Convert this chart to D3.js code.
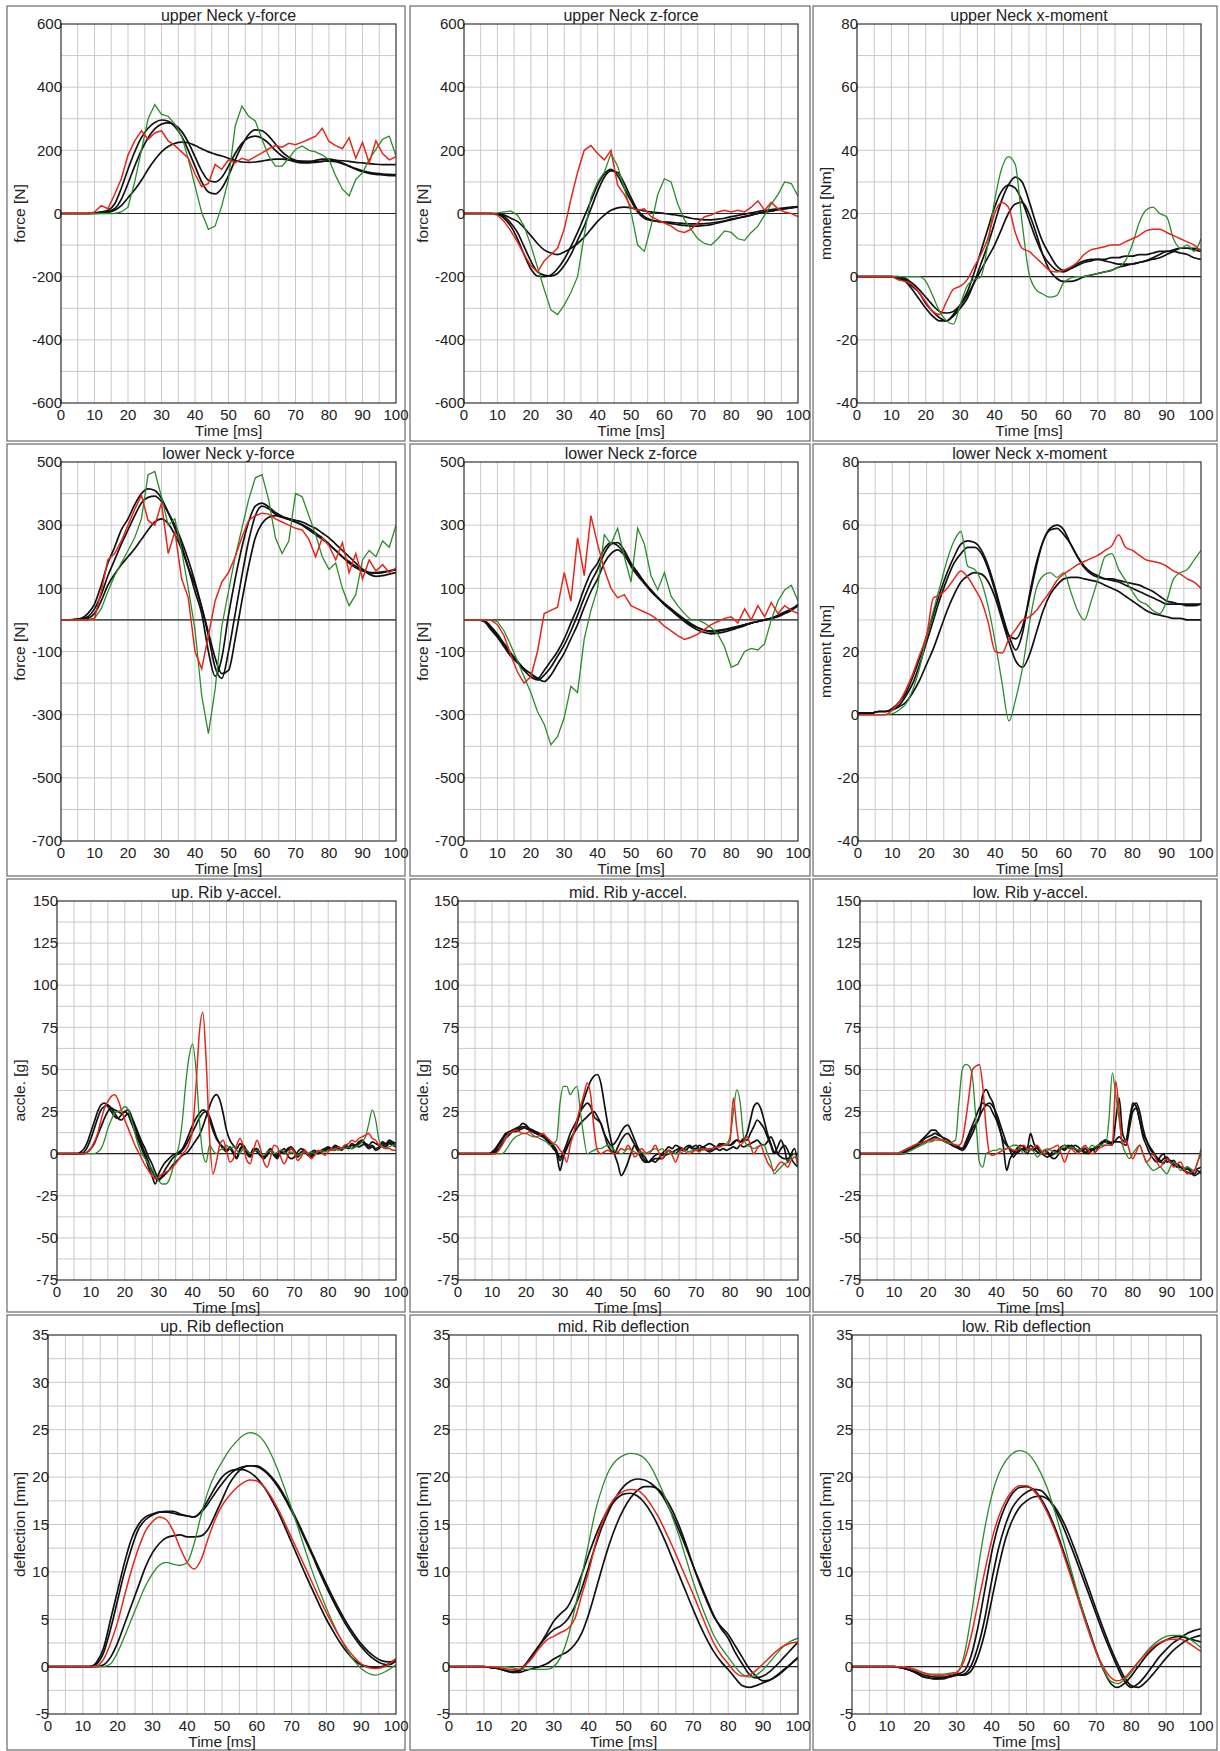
<!DOCTYPE html>
<html>
<head>
<meta charset="utf-8">
<script src="https://cdn.jsdelivr.net/npm/d3@7"></script>
<style>
  body { margin: 0; background: #fff; }
  svg text { font-family: "Liberation Sans", Arial, sans-serif; fill: #222; }
</style>
</head>
<body>
<div id="chart"></div>
<script>
/* sample times [ms] */
const timeMs2 = [0,2,4,6,8,10,12,14,16,18,20,22,24,26,28,30,32,34,36,38,40,42,44,46,48,50,
  52,54,56,58,60,62,64,66,68,70,72,74,76,78,80,82,84,86,88,90,92,94,96,98,100];
const timeMs1 = [0,1,2,3,4,5,6,7,8,9,10,11,12,13,14,15,16,17,18,19,20,21,22,23,24,25,26,27,28,29,
  30,31,32,33,34,35,36,37,38,39,40,41,42,43,44,45,46,47,48,49,50,51,52,53,54,55,56,57,58,59,
  60,61,62,63,64,65,66,67,68,69,70,71,72,73,74,75,76,77,78,79,80,81,82,83,84,85,86,87,88,89,
  90,91,92,93,94,95,96,97,98,99,100];

const panelTitles = [
  "upper Neck y-force", "upper Neck z-force", "upper Neck x-moment",
  "lower Neck y-force", "lower Neck z-force", "lower Neck x-moment",
  "up. Rib y-accel.", "mid. Rib y-accel.", "low. Rib y-accel.",
  "up. Rib deflection", "mid. Rib deflection", "low. Rib deflection"
];
const yLabels = [
  "force [N]", "force [N]", "moment [Nm]",
  "force [N]", "force [N]", "moment [Nm]",
  "accle. [g]", "accle. [g]", "accle. [g]",
  "deflection [mm]", "deflection [mm]", "deflection [mm]"
];
const xTicks = [0,10,20,30,40,50,60,70,80,90,100];
const yTicksUpperForce = [-600,-400,-200,0,200,400,600];
const yTicksLowerForce = [-700,-500,-300,-100,100,300,500];
const yTicksMoment = [-40,-20,0,20,40,60,80];
const yTicksAccel = [-75,-50,-25,0,25,50,75,100,125,150];
const yTicksDefl = [-5,0,5,10,15,20,25,30,35];

// ---- upper neck y-force
const upNeckFyBlack = [
  [0,0,0,0,0,2,5,10,30,80, 140,195,240,270,288,296,292,275,245,200, 150,100,68,62,80,120,170,215,250,265,
   262,245,220,195,178,168,165,165,168,172, 172,168,160,150,140,132,127,124,122,120, 120],
  [0,0,0,0,0,1,3,6,15,45, 95,150,200,240,268,283,287,280,260,225, 180,135,105,100,115,150,190,222,240,245,
   238,222,200,182,170,163,160,160,162,165, 167,168,167,165,162,160,158,156,155,155, 155],
  [0,0,0,0,0,0,1,3,10,25, 50,75,105,140,170,195,212,222,226,224, 215,205,195,188,182,175,168,163,162,163,
   166,170,172,172,170,167,165,164,164,165, 166,164,158,150,142,135,130,127,125,124, 123]
];
const upNeckFyRed = [0,0,0,0,0,5,25,15,60,110, 185,230,262,235,255,262,230,215,195,175, 125,85,95,155,140,170,160,175,168,180,
  192,205,215,210,222,218,226,235,245,270, 228,215,205,240,175,225,160,230,190,170, 180];
const upNeckFyGreen = [0,0,0,0,0,0,0,0,0,5, 20,100,200,300,345,314,308,282,245,172, 87,3,-50,-40,24,108,277,340,308,293,
  235,182,150,150,175,203,214,200,195,185, 171,119,77,56,108,129,171,203,235,245, 182];

// ---- upper neck z-force
const upNeckFzBlack = [
  [0,0,0,0,0,-3,-15,-40,-80,-130, -175,-198,-200,-195,-175,-145,-105,-60,-10,40, 90,125,140,120,80,40,5,-15,-22,-25,
   -27,-28,-30,-32,-33,-33,-32,-30,-27,-23, -18,-14,-10,-5,0,5,8,12,15,18, 20],
  [0,0,0,0,0,-2,-10,-30,-60,-105, -150,-185,-195,-198,-190,-165,-130,-85,-40,15, 70,115,135,130,95,50,10,-10,-20,-25,
   -28,-32,-35,-38,-40,-40,-38,-35,-30,-25, -20,-15,-10,-5,0,5,8,12,15,18, 22],
  [0,0,0,0,0,-1,-5,-15,-25,-45, -70,-95,-115,-125,-130,-122,-110,-95,-75,-50, -25,-5,10,18,20,18,12,8,5,3,
   0,-3,-6,-10,-15,-18,-20,-20,-18,-15, -10,-6,-2,2,6,10,12,15,18,20, 22]
];
const upNeckFzRed = [0,0,0,0,0,-5,-25,-55,-90,-130, -165,-185,-150,-130,-110,-50,45,130,200,215, 190,170,200,90,60,20,10,15,-10,-20,
  -30,-40,-55,-60,-50,-30,-10,-5,5,10, 5,10,5,20,40,10,35,15,5,0, -10];
const upNeckFzGreen = [0,0,0,0,0,2,5,8,-5,-40, -100,-170,-240,-305,-320,-290,-250,-200,-70,50, 100,130,190,150,80,5,-100,-120,-40,60,
  110,100,30,-20,-50,-80,-95,-100,-80,-55, -60,-80,-85,-60,-40,-5,30,60,100,95, 55];

// ---- upper neck x-moment
const upNeckMxBlack = [
  [0,0,0,0,0,0,-0.5,-1,-3,-5, -8.5,-11,-13,-14,-12.5,-10,-7,-2,4,10, 17,24,29,31.5,30,24,17,11,7,3.5,
   2,2.5,3.5,4.5,5,5.5,5.5,6,6,6.5, 6.5,7,7,7.5,8,8,8.5,9,9,9, 8.5],
  [0,0,0,0,0,0,-0.5,-1.5,-4,-7, -10,-12.5,-14,-14,-12,-9,-5,1,8,15, 22,27,29,28,24,18,12,7,4,2,
   1.5,2.5,4,5,5.5,5.5,5,4.5,4,4, 4,4.5,5,6,7,8,8,7.5,7,6, 5.5],
  [0,0,0,0,0,0,0,-0.5,-2,-4, -6.5,-9,-11,-11.5,-11,-9,-6,-2,2,6, 10,15,20,23,23.5,20,14,7,2,-0.5,
   -1.5,-1.5,-1,0,0.5,1,1.5,2,3,3.5, 4,4.5,5,5.5,6,7,8,9,9,8.5, 8]
];
const upNeckMxRed = [0,0,0,0,0,0,-1,-1.5,-2.5,-5, -8,-11,-12,-8,-4,-3,-1,3,7,12, 20,23.5,22,14,9,8,6,4,2,1.5,
  2,3,4.5,7,8.5,9,9.5,10,10,11, 12,13,14.5,15,15,14,13,12,11,10, 8];
const upNeckMxGreen = [0,0,0,0,0,0,0,0,0,0, -1.5,-6,-11,-14,-15,-9,-3,-1,0,10, 24,34,38,35.5,17,1,-4,-5.5,-6.5,-6,
  -2,-0.5,0,0,0.5,1,1.5,2,3,5, 10,17,21,22,20,19,12,9,10,8, 12];

// ---- lower neck y-force
const lowNeckFyBlack = [
  [0,0,2,5,20,50,110,180,230,285, 320,365,400,415,410,385,340,290,235,165, 90,20,-100,-178,-120,15,130,230,310,360,
   370,358,340,328,320,310,300,285,270,255, 240,220,200,185,170,160,150,148,150,155, 160],
  [0,0,1,3,10,35,80,140,190,240, 285,330,370,388,392,375,340,300,250,190, 120,40,-50,-150,-185,-100,20,140,250,330,
   360,352,335,325,318,310,302,290,275,260, 240,220,200,180,165,155,150,150,152,155, 158],
  [0,0,0,1,5,20,60,110,145,175, 200,225,255,285,310,320,305,270,225,165, 110,40,-40,-120,-170,-160,-60,60,170,260,
   305,325,330,325,320,315,310,300,290,275, 260,240,220,200,180,160,145,138,140,145, 150]
];
const lowNeckFyRed = [0,0,0,0,0,5,90,190,210,250, 300,350,395,315,300,370,210,280,130,70, -100,-155,-50,60,120,150,200,262,315,330,
  338,335,320,310,300,290,285,255,200,260, 235,190,245,150,210,130,190,155,175,150, 165];
const lowNeckFyGreen = [0,0,0,0,0,5,35,90,140,180, 220,260,320,460,470,390,300,320,220,100, -30,-240,-360,-220,-20,90,200,290,380,450,
  460,380,260,210,250,400,390,330,270,200, 160,180,100,45,80,190,220,200,250,230, 300];

// ---- lower neck z-force
const lowNeckFzBlack = [
  [0,0,0,-5,-30,-55,-85,-115,-135,-155, -170,-185,-160,-130,-100,-60,-10,40,100,150, 180,225,245,235,210,170,140,115,90,70,
   50,35,15,0,-15,-25,-32,-35,-33,-30, -25,-20,-15,-10,-5,0,5,15,25,35, 45],
  [0,0,0,-3,-25,-50,-80,-110,-135,-160, -180,-190,-175,-150,-115,-80,-35,15,70,120, 160,210,240,245,220,180,150,120,95,72,
   52,35,18,2,-12,-25,-33,-38,-36,-32, -28,-22,-16,-10,-5,0,5,12,22,32, 50],
  [0,0,0,-2,-20,-45,-75,-105,-130,-155, -170,-185,-195,-175,-140,-105,-60,-15,40,90, 130,180,210,222,205,175,145,118,92,70,
   48,30,12,-5,-20,-32,-40,-44,-42,-38, -32,-25,-18,-10,-5,0,5,10,20,30, 45]
];
const lowNeckFzRed = [0,0,0,0,0,-15,-50,-110,-165,-200, -180,-100,20,30,40,150,60,260,140,330, 240,160,100,70,80,45,35,25,15,0,
  -20,-35,-50,-62,-55,-45,-30,-15,-5,5, 10,-10,35,0,45,10,55,20,45,30, 20];
const lowNeckFzGreen = [0,0,0,0,0,-5,-35,-80,-130,-180, -230,-290,-330,-395,-370,-310,-210,-230,-60,30, 100,270,240,290,200,120,290,240,140,95,
  150,75,45,20,0,0,-10,-25,-45,-85, -150,-140,-100,-90,-95,-75,0,60,95,110, 60];

// ---- lower neck x-moment
const lowNeckMxBlack = [
  [0.5,0.5,0.5,1,1,2,4,7,12,18, 25,32,39,45,50,54,55,54.5,52,47, 40,32,25,20.5,26,38,48,55,59,60,
   58.5,54,50,46.5,44.5,43.5,43,42.5,42,41, 40,39,38,37,36,35,35,35,34.5,34.5, 35],
  [0.5,0.5,0.5,1,1,1.5,3,6,10,16, 23,30,37,43,48,51,53,53,51,46, 39,31,25,24,28,37,47,55,58.5,59,
   57,54,50,47,45,44,43,43,42.5,42, 41.5,41,40,39,37.5,36,35.5,35,35,35, 35],
  [0.5,0.5,0.5,1,1,1.5,2.5,4,7,11, 16,21,27,33,38,42,44,45,44.5,42, 37,30,23,17,15,19,26,33,38,41,
   43,43.5,43.5,43,42.5,42,41,40,39,37.5, 36,34.5,33,32,31.5,31,30.5,30.5,30,30, 30]
];
const lowNeckMxRed = [0,0,0,0,0,1.5,4,8,13,19, 25,37,38,40,43,45.5,43.5,40,36,29, 20,19.5,24,27,30,31,33,36,39,42.5,
  44.5,46,47.5,48.5,49.5,50.5,52,53.5,57,53, 52,50.5,49,48.5,48,47,45.5,44.5,43,42, 40];
const lowNeckMxGreen = [0,0,0,0,0,0.3,1.5,3.5,8,15, 24.5,33,41,49,55,58,47,46,42,34, 23,10,-2,5,15,29,40,44,45,43.5,
  45,39,33,30,36,43,50,51,46,42.5, 39,36,35,33,32,36,43,45,46,49, 52];

// ---- up. rib y-accel (1 ms)
const upRibAccBlack = [
  [0,0,0,0,0,0,0,1,3,7, 13,19,25,29,30,28,25,22,21,23, 25,23,18,13,8,3,-2,-8,-13,-18,
   -12,-8,-5,-3,-1,0,1,3,7,12, 17,21,24,26,25,20,14,9,6,4, 2,4,1,-2,3,5,1,-1,2,3,
   0,-2,1,3,0,-1,2,1,3,4, 2,-1,1,2,0,-1,1,0,2,3, 4,3,5,4,3,5,4,6,5,7, 8,6,4,5,3,4,6,5,7,6, 5],
  [0,0,0,0,0,0,0,0,1,4, 9,15,21,26,28,29,27,24,21,20, 22,24,21,16,10,5,0,-5,-10,-14,
   -16,-13,-9,-6,-3,-1,0,2,5,9, 13,17,21,24,25,22,16,10,6,3, 1,3,0,-3,2,4,0,-2,3,2,
   -1,-3,0,2,-1,-3,1,0,2,3, 1,-2,0,1,-1,-2,0,1,1,2, 3,2,4,3,2,4,3,5,4,6, 7,5,3,4,2,3,5,4,6,5, 4],
  [0,0,0,0,0,0,0,0,0,1, 3,6,11,16,21,25,27,26,25,24, 25,26,22,17,12,7,3,-2,-6,-11,
   -15,-14,-12,-10,-7,-5,-3,-1,0,2, 5,8,11,16,22,28,33,35,32,24, 14,8,5,3,6,4,2,0,3,1,
   -1,-3,-1,2,0,-2,1,3,-1,-3, -2,1,3,2,0,1,2,0,1,2, 2,3,2,4,3,5,4,3,5,4, 5,6,5,7,6,5,7,6,8,7, 6]
];
const upRibAccRed = [0,0,0,0,0,0,0,0,0,1, 3,7,12,20,27,31,34,35,32,26, 20,15,10,5,1,-3,-7,-10,-13,-15,
  -14,-12,-11,-10,-8,-6,-3,0,2,6, 15,40,72,84,55,10,-12,-5,5,8, 2,-5,-3,5,9,4,-4,-6,2,8,
  3,-5,-8,-2,5,4,-2,-6,-2,3, 1,-4,-2,2,0,-3,-1,2,1,-1, 1,3,2,4,3,5,6,8,7,9, 10,11,12,9,8,5,4,3,3,2, 2];
const upRibAccGreen = [0,0,0,0,0,0,0,0,0,0, 0,0,1,3,8,15,20,24,25,26, 28,26,20,12,5,0,-3,-6,-9,-13,
  -16,-18,-18,-16,-10,-2,5,20,42,58, 65,50,20,0,-5,5,2,0,2,3, 5,3,4,2,0,3,2,0,1,2,
  0,-1,1,2,0,1,2,1,0,1, 0,-1,0,1,0,1,0,1,2,1, 2,2,3,2,3,3,4,3,4,5, 7,10,18,26,20,8,4,3,4,5, 5];

// ---- mid. rib y-accel (1 ms)
const midRibAccBlack = [
  [0,0,0,0,0,0,0,0,0,0, 1,3,6,9,12,13,14,15,16,18, 17,15,14,13,12,11,9,7,4,0,
   -10,-2,3,8,12,18,25,32,38,43, 46,47,42,30,18,8,0,-6,-13,-10, -5,1,5,3,0,-2,-5,-3,-1,0,
   -1,0,2,1,2,3,2,4,5,4, 5,3,4,3,2,3,4,5,6,5, 5,7,8,7,8,12,20,28,30,27, 20,12,6,1,0,3,5,2,-3,-6, -8],
  [0,0,0,0,0,0,0,0,0,0, 0,2,5,8,11,12,13,13,14,15, 16,14,13,12,11,10,8,6,3,1,
   -2,0,4,8,12,15,18,20,22,24, 25,22,18,12,8,5,6,9,13,16, 17,13,8,3,-1,-4,-5,-4,-3,-3,
   -3,-1,0,1,0,2,3,2,4,3, 3,5,4,5,6,5,4,6,5,5, 5,6,8,7,9,8,12,16,20,18, 15,10,5,0,4,8,3,-5,0,3, -8],
  [0,0,0,0,0,0,0,0,0,0, 0,1,3,6,9,11,13,14,15,16, 15,14,13,12,11,10,9,7,5,2,
   -4,1,6,12,16,20,25,28,30,28, 22,20,18,12,5,2,0,4,8,11, 12,9,5,1,-3,-5,-5,-4,-5,-3,
   0,2,4,3,5,4,3,2,4,3, 3,2,3,2,1,2,3,2,3,2, 3,4,3,5,4,5,6,7,8,6, 5,7,10,6,0,-2,-3,-3,-1,0, 0]
];
const midRibAccRed = [0,0,0,0,0,0,0,0,0,0, 0,0,2,5,9,12,13,14,13,12, 12,13,11,10,11,12,10,8,6,5,
  2,0,-5,5,12,20,28,35,42,35, 15,2,0,1,2,1,0,1,3,2, 5,2,-2,0,3,1,0,2,5,1,
  -3,0,2,-1,-5,0,3,1,0,1, 2,1,3,2,3,3,4,4,5,5, 8,33,15,5,7,10,5,0,3,5, 0,-5,-8,-10,-7,-5,-6,-8,-4,-2, -5];
const midRibAccGreen = [0,0,0,0,0,0,0,0,0,0, 0,0,0,0,2,5,8,10,11,12, 12,11,10,10,9,8,7,5,6,8,
  30,40,40,35,38,40,25,10,0,1, 2,3,3,4,5,4,2,1,0,1, 3,2,1,0,1,0,1,2,3,2,
  3,1,0,1,0,0,1,2,1,2, 2,3,2,3,3,3,4,4,5,6, 10,25,38,30,10,5,4,3,4,5, 5,0,-5,-12,-10,-8,-6,-5,-2,0, -8];

// ---- low. rib y-accel (1 ms)
const lowRibAccBlack = [
  [0,0,0,0,0,0,0,0,0,0, 0,0,1,2,3,4,5,6,8,10, 12,14,14,12,10,9,8,6,5,4,
   3,5,10,15,18,22,35,38,34,30, 22,15,5,-10,-3,0,3,5,4,3, 12,6,3,1,0,0,-2,-3,-1,3,
   3,5,4,3,2,3,1,0,2,4, 5,7,8,7,5,20,33,12,8,18, 30,28,20,10,5,0,-3,-5,-2,0, -5,-4,-6,-8,-8,-10,-11,-12,-10,-9, -8],
  [0,0,0,0,0,0,0,0,0,0, 0,0,0,1,2,3,4,6,7,9, 10,11,12,11,10,8,7,5,4,3,
   3,7,12,17,22,27,30,29,28,24, 20,14,8,5,3,1,0,2,3,2, 5,3,1,0,2,1,-1,0,2,4,
   5,4,3,5,4,2,3,1,2,3, 5,7,7,6,7,7,7,6,5,15, 25,27,20,12,8,3,0,-3,-5,-3, -2,-5,-7,-6,-8,-9,-8,-10,-12,-10, -12],
  [0,0,0,0,0,0,0,0,0,0, 0,0,0,0,2,3,4,5,6,7, 8,9,10,9,8,7,6,5,4,3,
   2,4,8,12,17,22,26,29,30,28, 24,18,12,6,2,-2,1,3,2,0, 3,2,4,1,-1,-2,0,2,1,3,
   2,4,5,3,1,2,0,2,3,1, 4,6,8,7,6,8,10,8,7,20, 28,30,25,15,8,4,1,-2,-4,-6, -3,-5,-4,-7,-8,-10,-9,-11,-13,-12, -10]
];
const lowRibAccRed = [0,0,0,0,0,0,0,0,0,0, 0,0,1,2,3,4,5,6,6,7, 8,8,9,9,8,8,7,6,5,5,
  8,20,35,50,52,53,40,15,0,-1, 0,1,2,3,3,2,2,4,5,3, 2,4,5,2,0,2,3,4,5,0,
  -5,0,3,1,0,3,5,2,0,1, 3,4,5,5,5,43,25,5,8,2, -3,1,5,0,-5,-3,0,-4,-8,-5, -3,-5,-8,-6,-5,-9,-12,-11,-10,-5, 0];
const lowRibAccGreen = [0,0,0,0,0,0,0,0,0,0, 0,0,0,0,1,2,3,4,5,6, 7,7,8,8,8,7,6,7,8,30,
  50,53,52,45,20,-5,-8,0,1,2, 2,3,2,3,4,5,5,3,0,2, 3,1,-2,0,2,3,2,1,0,3,
  5,3,4,3,2,3,4,3,5,4, 5,5,5,20,48,35,20,5,0,-3, 0,3,5,0,-5,-8,-10,-9,-8,-10, -12,-8,-5,-7,-10,-9,-8,-9,-10,-5, 3];

// ---- up. rib deflection
const upRibDeflBlack = [
  [0,0,0,0,0,0,0,0.3,1.5,4, 7,10,12.5,14.5,15.5,16,16.3,16.4,16.4,16.1, 15.9,15.8,16.3,17.2,18.3,19.3,20.2,20.8,21.1,21.2,
   21.1,20.7,20,19,17.8,16.4,14.9,13.3,11.7,10, 8.4,6.9,5.5,4.2,3.1,2.1,1.3,0.7,0.3,0.2, 0.6],
  [0,0,0,0,0,0,0,0.5,2,5, 8,11,13.5,15,15.8,16.1,16.3,16.3,16.2,16, 15.9,15.8,16.4,17.6,18.9,20,20.6,20.8,20.8,20.5,
   19.9,19,17.8,16.4,14.8,13.1,11.4,9.7,8.1,6.5, 5,3.7,2.5,1.5,0.7,0.2,0,-0.1,0,0.3, 0.8],
  [0,0,0,0,0,0,0,0,0.2,1, 2.5,4.5,6.5,8.5,10.5,12,13,13.6,13.8,13.9, 13.7,13.7,13.8,14.5,16,17.6,19.2,20.3,21,21.2,
   21.2,20.8,20.1,19.2,18,16.6,15.1,13.5,11.9,10.3, 8.7,7.2,5.8,4.5,3.4,2.4,1.6,1,0.6,0.5, 0.6]
];
const upRibDeflRed = [0,0,0,0,0,0,0,0.1,0.8,2.5, 4.7,7.5,10.2,12.5,14.3,15.3,15.8,15.5,14.3,12.5, 11,10.3,11.3,13.5,15.5,17,18,18.8,19.4,19.7,
  19.6,19,18,16.7,15.2,13.6,12,10.4,8.8,7.2, 5.7,4.3,3,1.9,1,0.3,-0.1,-0.2,-0.1,0.3, 0.8];
const upRibDeflGreen = [0,0,0,0,0,0,0,0,0,0.3, 1.5,3.2,5,6.8,8.5,9.8,10.7,11,10.8,10.7, 11,13,16,18.5,20.3,21.6,22.8,23.7,24.4,24.7,
  24.5,23.8,22.5,20.8,18.8,16.7,14.5,12.2,10,8, 6.2,4.5,3,1.7,0.6,-0.2,-0.7,-0.9,-0.7,-0.3, 0.2];

// ---- mid. rib deflection
const midRibDeflBlack = [
  [0,0,0,0,0,0,-0.1,-0.2,-0.4,-0.6, -0.5,0.2,1.2,2.3,3.5,4.8,5.6,6.3,7.8,9.7, 11.8,13.8,15.5,16.8,17.7,18.2,18.3,18,17.3,16.2,
   14.8,13.2,11.4,9.6,7.8,6,4.3,2.8,1.5,0.5, -0.3,-1.2,-2,-2.2,-2,-1.7,-1.4,-0.9,-0.3,0.3, 0.9],
  [0,0,0,0,0,0,-0.1,-0.2,-0.4,-0.5, -0.4,0.3,1.3,2.3,3.2,3.9,4.3,5,6.3,8.2, 10.5,12.8,14.9,16.6,18,19,19.6,19.8,19.7,19.3,
   18.6,17.5,16,14.3,12.5,10.6,8.8,7,5.3,4, 3,1.5,0.3,-0.8,-1.2,-1,-0.5,0.2,1,1.8, 2.6],
  [0,0,0,0,0,0,-0.1,-0.2,-0.4,-0.6, -0.6,-0.4,-0.2,0,0.3,0.8,1.2,1.6,2.3,3.5, 5.5,8,10.6,13,15,16.6,17.8,18.6,19,19,
   18.7,17.8,16.5,14.8,12.8,10.6,8.6,6.8,5.2,4.2, 3.4,2.2,1,-0.2,-1,-1.5,-1.4,-1,-0.4,0.3, 1]
];
const midRibDeflRed = [0,0,0,0,0,0,0,-0.1,-0.2,-0.3, -0.3,0.2,1,2,2.8,3.2,3.6,4,5,7.5, 10,13,15.3,17,18,18.5,18.7,18.6,18,17,
  15.8,14.3,12.7,11,9.3,7.6,5.8,4,2.4,1.2, 0.3,-0.6,-1,-0.9,-0.4,0.3,1,1.7,2.2,2.5, 2.6];
const midRibDeflGreen = [0,0,0,0,0,0,0,0,0,-0.1, -0.3,-0.3,-0.3,-0.3,-0.3,0,1,3,6,9.5, 13,16.5,19,20.8,21.8,22.3,22.5,22.4,22,21,
  19.5,17.8,15.8,13.7,11.3,8.9,6.8,4.9,3.2,2, 1,0,-0.8,-1.1,-0.9,-0.3,0.5,1.4,2.2,2.7, 3];

// ---- low. rib deflection
const lowRibDeflBlack = [
  [0,0,0,0,0,0,0,-0.1,-0.3,-0.6, -1,-1.2,-1.3,-1.2,-1,-0.8,-0.5,1,4,8, 12,15,17,18.3,18.9,19,18.7,17.8,16.5,14.8,
   12.8,10.6,8.3,6,3.8,1.6,-0.3,-1.7,-2.2,-1.8, -1,0,1,1.8,2.4,2.8,3.1,3.2,3,2.8, 2.6],
  [0,0,0,0,0,0,0,-0.1,-0.3,-0.6, -1,-1.2,-1.3,-1.3,-1.1,-0.9,-0.8,0,2,5, 9,12.5,15,16.8,17.8,18.4,18.7,18.6,17.9,16.7,
   15.2,13.4,11.5,9.5,7.5,5.5,3.5,1.7,0,-1.5, -2.2,-1.8,-1,0,1,1.8,2.5,3,3.5,3.8, 4],
  [0,0,0,0,0,0,0,-0.1,-0.3,-0.5, -0.8,-1,-1.1,-1.1,-1,-0.9,-0.9,-0.5,1,3.5, 7,10.5,13.5,15.5,16.8,17.5,17.9,18,17.7,16.9,
   15.7,14.1,12.2,10.2,8.1,6,4,2.1,0.4,-1.1, -2,-2.2,-1.7,-0.9,0,0.9,1.7,2.3,2.8,3.1, 3.3]
];
const lowRibDeflRed = [0,0,0,0,0,0,0,0,-0.1,-0.3, -0.6,-0.8,-0.9,-0.9,-0.8,-0.6,0.5,3,6.5,10, 13.3,15.8,17.5,18.6,19.1,19.1,18.6,17.6,16.2,14.5,
  12.5,10.3,8,5.7,3.5,1.5,0,-1.1,-1.5,-1.2, -0.4,0.5,1.3,2,2.5,2.8,2.9,2.9,2.6,2.1, 1.6];
const lowRibDeflGreen = [0,0,0,0,0,0,0,0,-0.1,-0.3, -0.6,-0.8,-0.8,-0.8,-0.7,-0.6,1,5,10,14.5, 18,20.3,21.7,22.5,22.8,22.6,21.8,20.5,18.8,16.5,
  14,11.3,8.6,6,3.6,1.5,-0.3,-1.5,-1.8,-1.4, -0.6,0.4,1.4,2.2,2.8,3.2,3.3,3.3,3.1,2.6, 2];

/* Page layout */
const W = 1220, H = 1751;
const colPanelLeft = [7, 410, 813];
const colPanelRight = [405, 810, 1217];
const rowPanelTop = [6, 444, 879, 1315];
const rowPanelBottom = [441, 876, 1312, 1750];
const rowPlotTop = [24, 462, 901, 1335];
const colPlotRight = [396, 798, 1201];
const rowColPlotLeft = [[61, 464, 857], [61, 464, 858], [57, 458, 860], [48, 449, 852]];
const plotHeight = 379;

const panelSeries = [
  {time: timeMs2, black: upNeckFyBlack, red: upNeckFyRed, green: upNeckFyGreen, ticks: yTicksUpperForce, grid: 100, smooth: false},
  {time: timeMs2, black: upNeckFzBlack, red: upNeckFzRed, green: upNeckFzGreen, ticks: yTicksUpperForce, grid: 100, smooth: false},
  {time: timeMs2, black: upNeckMxBlack, red: upNeckMxRed, green: upNeckMxGreen, ticks: yTicksMoment, grid: 10, smooth: true},
  {time: timeMs2, black: lowNeckFyBlack, red: lowNeckFyRed, green: lowNeckFyGreen, ticks: yTicksLowerForce, grid: 100, smooth: false},
  {time: timeMs2, black: lowNeckFzBlack, red: lowNeckFzRed, green: lowNeckFzGreen, ticks: yTicksLowerForce, grid: 100, smooth: false},
  {time: timeMs2, black: lowNeckMxBlack, red: lowNeckMxRed, green: lowNeckMxGreen, ticks: yTicksMoment, grid: 10, smooth: true},
  {time: timeMs1, black: upRibAccBlack, red: upRibAccRed, green: upRibAccGreen, ticks: yTicksAccel, grid: 12.5, smooth: true},
  {time: timeMs1, black: midRibAccBlack, red: midRibAccRed, green: midRibAccGreen, ticks: yTicksAccel, grid: 12.5, smooth: true},
  {time: timeMs1, black: lowRibAccBlack, red: lowRibAccRed, green: lowRibAccGreen, ticks: yTicksAccel, grid: 12.5, smooth: true},
  {time: timeMs2, black: upRibDeflBlack, red: upRibDeflRed, green: upRibDeflGreen, ticks: yTicksDefl, grid: 2.5, smooth: true},
  {time: timeMs2, black: midRibDeflBlack, red: midRibDeflRed, green: midRibDeflGreen, ticks: yTicksDefl, grid: 2.5, smooth: true},
  {time: timeMs2, black: lowRibDeflBlack, red: lowRibDeflRed, green: lowRibDeflGreen, ticks: yTicksDefl, grid: 2.5, smooth: true}
];

/* One test channel panel */
class TracePanel {
  constructor(_config, _data) {
    this.config = _config;
    this.data = _data;
    this.initVis();
  }

  initVis() {
    let vis = this;
    let c = vis.config;
    vis.g = c.svg.append("g");

    vis.xScale = d3.scaleLinear()
      .domain([0, 100])
      .range([c.left, c.right]);

    vis.yScale = d3.scaleLinear()
      .domain(d3.extent(vis.data.ticks))
      .range([c.top + c.height, c.top]);

    vis.g.append("clipPath")
      .attr("id", "clip" + c.index)
      .append("rect")
      .attr("x", c.left).attr("y", c.top)
      .attr("width", c.right - c.left).attr("height", c.height);

    vis.renderVis();
  }

  renderVis() {
    let vis = this;
    let c = vis.config;
    let [y0, y1] = vis.yScale.domain();

    // outer frame of the panel
    vis.g.append("rect")
      .attr("x", c.frame[0]).attr("y", c.frame[1])
      .attr("width", c.frame[2] - c.frame[0]).attr("height", c.frame[3] - c.frame[1])
      .attr("fill", "none").attr("stroke", "#6a6a6a").attr("stroke-width", 1.2);

    // grid
    let xs = d3.range(1, 20).map(i => i * 5);
    let nY = Math.round((y1 - y0) / vis.data.grid);
    let ys = d3.range(1, nY).map(i => y0 + i * vis.data.grid);
    vis.g.append("g").selectAll("line").data(xs).join("line")
      .attr("x1", d => vis.xScale(d)).attr("x2", d => vis.xScale(d))
      .attr("y1", c.top).attr("y2", c.top + c.height)
      .attr("stroke", "#c9c9c9").attr("stroke-width", 1);
    vis.g.append("g").selectAll("line").data(ys).join("line")
      .attr("x1", c.left).attr("x2", c.right)
      .attr("y1", d => vis.yScale(d)).attr("y2", d => vis.yScale(d))
      .attr("stroke", "#c9c9c9").attr("stroke-width", 1);

    // zero line
    vis.g.append("line")
      .attr("x1", c.left).attr("x2", c.right)
      .attr("y1", vis.yScale(0)).attr("y2", vis.yScale(0))
      .attr("stroke", "#222").attr("stroke-width", 1.1);

    // traces
    let line = d3.line()
      .x((d, i) => vis.xScale(vis.data.time[i]))
      .y(d => vis.yScale(d))
      .curve(d3.curveLinear);
    let smoothLine = d3.line()
      .x((d, i) => vis.xScale(vis.data.time[i]))
      .y(d => vis.yScale(d))
      .curve(d3.curveMonotoneX);
    let traces = vis.g.append("g").attr("clip-path", `url(#clip${c.index})`);

    traces.selectAll(".black").data(vis.data.black).join("path")
      .attr("class", "black")
      .attr("d", d => smoothLine(d))
      .attr("fill", "none").attr("stroke", "#111").attr("stroke-width", 1.7);
    traces.append("path")
      .attr("d", (vis.data.smooth ? smoothLine : line)(vis.data.green))
      .attr("fill", "none").attr("stroke", "#2b8b2b").attr("stroke-width", 1.3);
    traces.append("path")
      .attr("d", (vis.data.smooth ? smoothLine : line)(vis.data.red))
      .attr("fill", "none").attr("stroke", "#e5261c").attr("stroke-width", 1.5);

    // plot border
    vis.g.append("rect")
      .attr("x", c.left).attr("y", c.top)
      .attr("width", c.right - c.left).attr("height", c.height)
      .attr("fill", "none").attr("stroke", "#333").attr("stroke-width", 1.2);

    // tick labels
    vis.g.append("g").selectAll("text").data(vis.data.ticks).join("text")
      .attr("x", c.left + 1).attr("y", d => vis.yScale(d)).attr("dy", "0.35em")
      .attr("text-anchor", "end").attr("font-size", 15)
      .text(d => d);
    vis.g.append("g").selectAll("text").data(xTicks).join("text")
      .attr("x", d => vis.xScale(d)).attr("y", c.top + c.height + 17)
      .attr("text-anchor", "middle").attr("font-size", 15)
      .text(d => d);

    // titles
    let cx = (c.left + c.right) / 2;
    vis.g.append("text")
      .attr("x", cx).attr("y", c.top - 3)
      .attr("text-anchor", "middle").attr("font-size", 16)
      .text(c.title);
    vis.g.append("text")
      .attr("x", cx).attr("y", c.top + c.height + 33)
      .attr("text-anchor", "middle").attr("font-size", 15.5)
      .text("Time [ms]");
    vis.g.append("text")
      .attr("transform", `translate(${c.frame[0] + 13},${c.top + c.height / 2}) rotate(-90)`)
      .attr("dy", "0.35em")
      .attr("text-anchor", "middle").attr("font-size", 15.5)
      .text(c.yLabel);
  }
}

const svg = d3.select("#chart").append("svg")
  .attr("width", W).attr("height", H);

panelSeries.forEach((s, i) => {
  let row = Math.floor(i / 3), col = i % 3;
  new TracePanel({
    svg: svg,
    index: i,
    title: panelTitles[i],
    yLabel: yLabels[i],
    frame: [colPanelLeft[col], rowPanelTop[row], colPanelRight[col], rowPanelBottom[row]],
    left: rowColPlotLeft[row][col],
    right: colPlotRight[col],
    top: rowPlotTop[row],
    height: plotHeight
  }, s);
});
</script>
</body>
</html>
